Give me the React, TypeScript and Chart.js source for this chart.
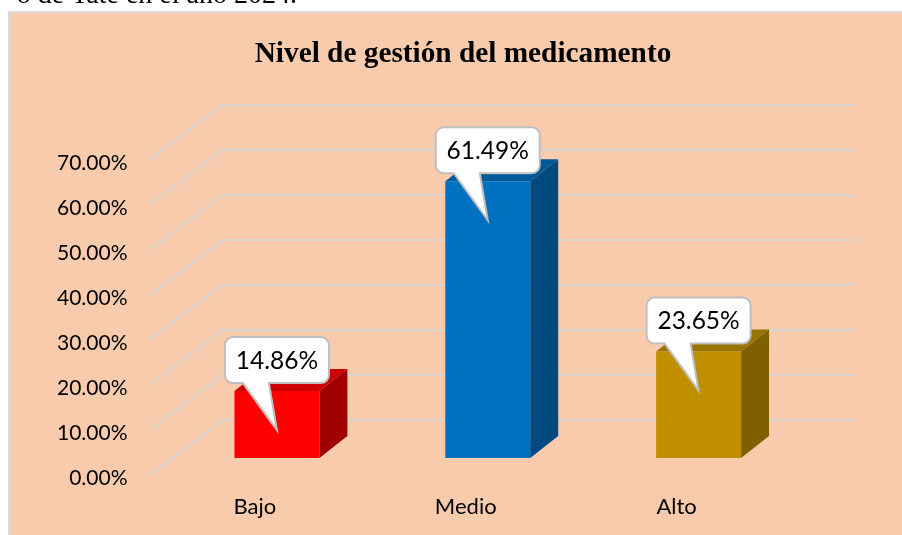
import React, { useEffect, useRef } from "react";
import { Chart, registerables } from "chart.js";

Chart.register(...registerables);

const categories = ["Bajo", "Medio", "Alto"];
const values = [14.86, 61.49, 23.65];
const frontColors = ["#FF0000", "#0070C0", "#BF8F00"];
const sideColors = ["#A00000", "#004A7F", "#7F6000"];
const topColors = ["#CC0000", "#005A9A", "#997300"];
const chartTitle = "Nivel de gestión del medicamento";
const clippedCaption = "o de Tate en el año 2024.";

const PANEL = "#F7CBAC";
const FRAME = "#D9D9D9";
const GRID = "#D9D3CE";
const LABEL_FONT = "Lato";
const WALL_DX = 73;
const WALL_DY = -55;
const BAR_DX = 22;
const BAR_DY = -17;
const FACE_DX = 28;
const FACE_DY = -22;

const depthPlugin = {
  id: "depth",
  afterLayout(chart: any) {
    // Centre the title over the drawing as in the reference.
    if (chart.titleBlock) chart.titleBlock.left = 144;
  },
  beforeDraw(chart: any) {
    const { ctx, width, height } = chart;
    ctx.save();
    ctx.fillStyle = FRAME;
    ctx.fillRect(8, 11, width - 8, height - 11);
    ctx.fillStyle = PANEL;
    ctx.fillRect(10, 13, width - 10, height - 13);
    ctx.fillStyle = "#000";
    ctx.font = "28px 'Liberation Serif'";
    ctx.textAlign = "right";
    ctx.textBaseline = "alphabetic";
    ctx.fillText(clippedCaption, 297, 3);
    ctx.restore();
  },
  beforeDatasetsDraw(chart: any) {
    const { ctx, chartArea, scales } = chart;
    ctx.save();
    ctx.strokeStyle = GRID;
    ctx.lineWidth = 2;
    scales.y.ticks.forEach((t: any) => {
      const y = scales.y.getPixelForValue(t.value);
      ctx.beginPath();
      ctx.moveTo(chartArea.left, y);
      ctx.lineTo(chartArea.left + WALL_DX, y + WALL_DY);
      ctx.lineTo(chartArea.right + WALL_DX, y + WALL_DY);
      ctx.stroke();
    });
    ctx.restore();

    ctx.save();
    ctx.translate(BAR_DX, BAR_DY);
    const meta = chart.getDatasetMeta(0);
    meta.data.forEach((bar: any, i: number) => {
      const { x, y, base, width } = bar.getProps(["x", "y", "base", "width"], true);
      const r = x + width / 2;
      const l = x - width / 2;
      ctx.fillStyle = sideColors[i];
      ctx.beginPath();
      ctx.moveTo(r, y);
      ctx.lineTo(r + FACE_DX, y + FACE_DY);
      ctx.lineTo(r + FACE_DX, base + FACE_DY);
      ctx.lineTo(r, base);
      ctx.closePath();
      ctx.fill();
      ctx.fillStyle = topColors[i];
      ctx.beginPath();
      ctx.moveTo(l, y);
      ctx.lineTo(l + FACE_DX, y + FACE_DY);
      ctx.lineTo(r + FACE_DX, y + FACE_DY);
      ctx.lineTo(r, y);
      ctx.closePath();
      ctx.fill();
    });
  },
  afterDatasetsDraw(chart: any) {
    const { ctx } = chart;
    ctx.restore();
    const meta = chart.getDatasetMeta(0);
    meta.data.forEach((bar: any, i: number) => {
      const { x, y } = bar.getProps(["x", "y"], true);
      const cx = x + BAR_DX;
      const top = y + BAR_DY;
      const L = cx - 52;
      const R = cx + 52;
      const T = top - 54;
      const B = top - 8;
      const rad = 8;
      ctx.save();
      ctx.beginPath();
      ctx.moveTo(L + rad, T);
      ctx.arcTo(R, T, R, B, rad);
      ctx.arcTo(R, B, L, B, rad);
      ctx.lineTo(cx - 8, B);
      ctx.lineTo(cx, top + 39);
      ctx.lineTo(cx - 34, B);
      ctx.arcTo(L, B, L, T, rad);
      ctx.arcTo(L, T, R, T, rad);
      ctx.closePath();
      ctx.fillStyle = "#FFFFFF";
      ctx.strokeStyle = "#BFBFBF";
      ctx.lineWidth = 2;
      ctx.fill();
      ctx.stroke();
      ctx.fillStyle = "#000";
      ctx.font = `24.5px ${LABEL_FONT}`;
      ctx.textAlign = "center";
      ctx.textBaseline = "middle";
      ctx.fillText(values[i].toFixed(2) + "%", cx, (T + B) / 2 + 1);
      ctx.restore();
    });
  },
};

export default function App() {
  const ref = useRef<HTMLCanvasElement>(null);
  useEffect(() => {
    const chart = new Chart(ref.current!, {
      type: "bar",
      data: {
        labels: categories,
        datasets: [
          {
            data: values,
            backgroundColor: frontColors,
            categoryPercentage: 1,
            barPercentage: 85 / 211,
            clip: false,
          } as any,
        ],
      },
      plugins: [depthPlugin],
      options: {
        animation: false,
        responsive: false,
        layout: { padding: { left: 0, right: 120, top: 0, bottom: 0 } },
        plugins: {
          legend: { display: false },
          tooltip: { enabled: false },
          title: {
            display: true,
            text: chartTitle,
            color: "#000",
            font: { family: "'Liberation Serif'", size: 29.3, weight: "bold" },
            padding: { top: 36.4, bottom: 88.4 },
          },
        },
        scales: {
          x: {
            grid: { display: false, drawTicks: false },
            border: { display: false },
            ticks: { color: "#000", padding: 19, font: { family: LABEL_FONT, size: 22 } },
            afterFit: (a: any) => { a.height = 60; },
          },
          y: {
            min: 0,
            max: 70,
            grid: { display: false, drawTicks: false },
            border: { display: false },
            ticks: {
              stepSize: 10,
              color: "#000",
              padding: 22,
              labelOffset: 3,
              font: { family: LABEL_FONT, size: 21 },
              callback: (v: any) => Number(v).toFixed(2) + "%",
            },
            afterFit: (a: any) => { a.width = 149.5; },
          },
        },
      },
    } as any);
    return () => chart.destroy();
  }, []);
  return (
    <canvas
      ref={ref}
      width={902}
      height={535}
      style={{ position: "absolute", left: 0, top: 0, width: 902, height: 535 }}
    />
  );
}
